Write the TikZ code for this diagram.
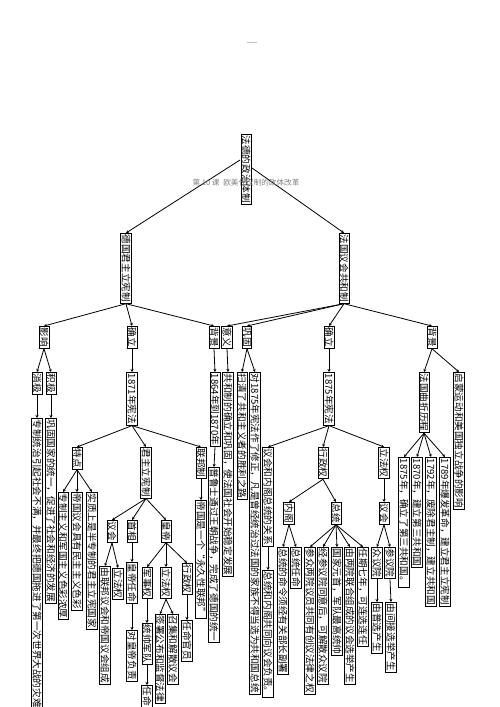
\documentclass[tikz,border=0pt]{standalone}
\usepackage{fontspec}
\newfontfamily\cjk{Noto Sans CJK SC}
\usetikzlibrary{arrows.meta}
\tikzset{
  kuang/.style={draw, line width=0.9pt, fill=white, inner xsep=1.3pt, inner ysep=0.6pt, rotate=-90, anchor=west,
    font=\cjk\fontsize{9.6}{10}\selectfont},
  jian/.style={-{Stealth[length=3pt,width=3pt]}, line width=0.8pt},
}
\begin{document}
\begin{tikzpicture}[x=1pt, y=-1pt]
  \useasboundingbox (0,0) rectangle (500,707);
  % 页眉
  \draw[gray!50, line width=0.6pt] (247,42) -- (257,42);
  % 根
  \node[kuang] (gen) at (246,134) {法德的政治体制};
  \node[kuang] (de) at (126,233) {德国君主立宪制};
  \node[kuang] (fa) at (344,233) {法国议会共和制};
  \coordinate (gen-l) at (240,160);
  \coordinate (gen-r) at (252,168);
  \draw[jian] (gen-l) -- (de.west);
  \draw[jian] (gen-r) -- (fa.west);
  % 德国
  \node[kuang] (de-yx) at (44,326) {影响};
  \node[kuang] (de-ql) at (132,326) {确立};
  \node[kuang] (de-bj) at (214,326) {背景};
  \foreach \n in {de-yx, de-ql, de-bj} \draw[jian] (de.east) -- (\n.west);
  \node[kuang] (xj) at (37,372) {消极};
  \node[kuang] (jj) at (51,372) {积极};
  \node[kuang] (xj1) at (37,418) {专制统治引起社会不满，并最终把德国拖进了第一次世界大战的灾难};
  \node[kuang] (jj1) at (51,418) {巩固国家的统一，促进了社会和经济的发展};
  \draw[jian] (de-yx.east) -- (xj.west);
  \draw[jian] (de-yx.east) -- (jj.west);
  \draw[jian] (xj.east) -- (xj1.west);
  \draw[jian] (jj.east) -- (jj1.west);
  \node[kuang] (xf71) at (132,372) {1871年宪法};
  \draw[jian] (de-ql.east) -- (xf71.west);
  \node[kuang] (td) at (77,447) {特点};
  \node[kuang] (jz) at (146,447) {君主立宪制};
  \node[kuang] (lb) at (201,447) {联邦制};
  \foreach \n in {td, jz, lb} \draw[jian] (xf71.east) -- (\n.west);
  \node[kuang] (td1) at (63,492) {专制主义和军国主义色彩浓厚};
  \node[kuang] (td2) at (77,492) {帝国议会具有民主主义色彩};
  \node[kuang] (td3) at (92,492) {实质上是半专制的君主立宪国家};
  \foreach \n in {td1, td2, td3} \draw[jian] (td.east) -- (\n.west);
  \node[kuang] (yh) at (112,520) {议会};
  \node[kuang] (sx) at (132,520) {首相};
  \node[kuang] (hd) at (166,520) {皇帝};
  \foreach \n in {yh, sx, hd} \draw[jian] (jz.east) -- (\n.west);
  \node[kuang] (yh1) at (105,566) {由联邦议会和帝国议会组成};
  \node[kuang] (yh2) at (118,568) {立法权};
  \draw[jian] (yh.east) -- (yh1.west);
  \draw[jian] (yh.east) -- (yh2.west);
  \node[kuang] (sx1) at (132,562) {皇帝任命};
  \node[kuang] (sx2) at (132,630) {对皇帝负责};
  \draw[jian] (sx.east) -- (sx1.west);
  \draw[jian] (sx1.east) -- (sx2.west);
  \node[kuang] (hd1) at (147,567) {军事权};
  \node[kuang] (hd2) at (166,567) {立法权};
  \node[kuang] (hd3) at (187,563) {行政权};
  \foreach \n in {hd1, hd2, hd3} \draw[jian] (hd.east) -- (\n.west);
  \node[kuang] (hd11) at (147,623) {统帅军队};
  \node[kuang] (hd12) at (147,685) {任命};
  \draw[jian] (hd1.east) -- (hd11.west);
  \draw[jian] (hd11.east) -- (hd12.west);
  \node[kuang] (hd21) at (160,614) {签署公布和监督法律};
  \node[kuang] (hd22) at (173,614) {召集和解散议会};
  \draw[jian] (hd2.east) -- (hd21.west);
  \draw[jian] (hd2.east) -- (hd22.west);
  \node[kuang] (hd31) at (187,620) {任命官员};
  \draw[jian] (hd3.east) -- (hd31.west);
  \node[kuang] (lb1) at (201,500) {帝国是一个“永久性联邦”};
  \draw[jian] (lb.east) -- (lb1.west);
  \node[kuang] (bj1) at (215,372) {1864年到1870年};
  \node[kuang] (bj2) at (214,467) {普鲁士通过王朝战争，完成了德国的统一};
  \draw[jian] (de-bj.east) -- (bj1.west);
  \draw[jian] (bj1.east) -- (bj2.west);
  % 法国
  \node[kuang] (fa-yy) at (227,326) {意义};
  \node[kuang] (fa-gg) at (247,326) {巩固};
  \node[kuang] (fa-ql) at (329,326) {确立};
  \node[kuang] (fa-bj) at (432,326) {背景};
  \foreach \n in {fa-yy, fa-gg, fa-ql, fa-bj} \draw[jian] (fa.east) -- (\n.west);
  \node[kuang] (yy1) at (228,372) {共和制的确立和巩固，使法国社会开始稳定发展};
  \draw[jian] (fa-yy.east) -- (yy1.west);
  \node[kuang] (gg1) at (242,372) {扫清了共和主义者的胜利之路};
  \node[kuang] (gg2) at (255,372) {对1875年宪法作了修正，凡是曾经统治过法国的家族不得当选为共和国总统};
  \draw[jian] (fa-gg.east) -- (gg1.west);
  \draw[jian] (fa-gg.east) -- (gg2.west);
  \node[kuang] (xf75) at (329,372) {1875年宪法};
  \draw[jian] (fa-ql.east) -- (xf75.west);
  \node[kuang] (gx) at (268,447) {议会和内阁总统的关系};
  \node[kuang] (xz) at (323,447) {行政权};
  \node[kuang] (lf) at (384,447) {立法权};
  \foreach \n in {gx, xz, lf} \draw[jian] (xf75.east) -- (\n.west);
  \node[kuang] (gx1) at (268,570) {总统和内阁共同向议会负责。};
  \draw[jian] (gx.east) -- (gx1.west);
  \node[kuang] (ng) at (289,502) {内阁};
  \node[kuang] (zt) at (336,502) {总统};
  \draw[jian] (xz.east) -- (ng.west);
  \draw[jian] (xz.east) -- (zt.west);
  \node[kuang] (ng1) at (283,547) {总统的命令须经有关部长副署};
  \node[kuang] (ng2) at (296,547) {总统任命};
  \draw[jian] (ng.east) -- (ng1.west);
  \draw[jian] (ng.east) -- (ng2.west);
  \node[kuang] (zt1) at (310,547) {参众两院议员共同有创议法律之权};
  \node[kuang] (zt2) at (323,547) {经参议院同意后，可解散众议院};
  \node[kuang] (zt3) at (337,547) {国家元首，军队最高统帅};
  \node[kuang] (zt4) at (350,547) {由两院联合组成的议会选举产生};
  \node[kuang] (zt5) at (363,547) {任期七年，可连选连任};
  \foreach \n in {zt1, zt2, zt3, zt4, zt5} \draw[jian] (zt.east) -- (\n.west);
  \node[kuang] (yh-f) at (384,502) {议会};
  \draw[jian] (lf.east) -- (yh-f.west);
  \node[kuang] (zy) at (377,547) {众议院};
  \node[kuang] (cy) at (390,547) {参议院};
  \draw[jian] (yh-f.east) -- (zy.west);
  \draw[jian] (yh-f.east) -- (cy.west);
  \node[kuang] (zy1) at (377,602) {由普选产生};
  \node[kuang] (cy1) at (391,602) {由间接选举产生};
  \draw[jian] (zy.east) -- (zy1.west);
  \draw[jian] (cy.east) -- (cy1.west);
  \node[kuang] (lc) at (424,372) {法国曲折历程};
  \node[kuang] (qm) at (459,372) {启蒙运动和美国独立战争的影响};
  \draw[jian] (fa-bj.east) -- (lc.west);
  \draw[jian] (fa-bj.east) -- (qm.west);
  \node[kuang] (lc1) at (404,457) {1875年，确立了第三共和国。};
  \node[kuang] (lc2) at (417,457) {1870年，建立第三共和国};
  \node[kuang] (lc3) at (431,457) {1792年，废除君主制，建立共和国};
  \node[kuang] (lc4) at (445,457) {1789年爆发革命，建立君主立宪制};
  \foreach \n in {lc1, lc2, lc3, lc4} \draw[jian] (lc.east) -- (\n.west);
  % 标题
  \node[gray, font=\cjk\fontsize{7.6}{8}\selectfont, anchor=west] (biaoti) at (189,183) {第 10 课\enspace 欧美代议制的政体改革};
\end{tikzpicture}
\end{document}
